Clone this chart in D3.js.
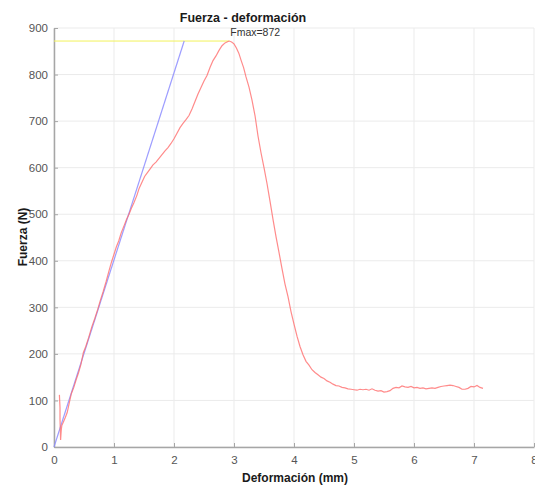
<!DOCTYPE html>
<html lang="es">
<head>
  <meta charset="UTF-8">
  <title>Fuerza - deformación</title>
  <script src="https://d3js.org/d3.v7.min.js"></script>
  <style>
    body { margin: 0; background: #fff; }
    text { font-family: "Liberation Sans", Arial, sans-serif; }
  </style>
</head>
<body>
<div id="chart"></div>
<script>
// curva medida: [deformación (mm), fuerza (N)]
var curva = [
  [0.09,112],[0.10,85],[0.10,60],[0.11,15],[0.12,35],[0.13,46],[0.16,55],[0.19,64],
  [0.22,74],[0.26,98],[0.29,115],[0.33,128],[0.37,145],[0.41,160],[0.45,178],[0.49,203],
  [0.53,216],[0.58,236],[0.63,258],[0.68,276],[0.73,296],[0.77,314],[0.82,334],[0.87,356],
  [0.92,380],[0.96,398],[1.00,414],[1.04,430],[1.08,443],[1.12,460],[1.17,476],[1.21,489],
  [1.25,500],[1.29,513],[1.33,524],[1.38,540],[1.42,556],[1.47,570],[1.51,581],[1.56,590],
  [1.60,597],[1.65,606],[1.70,612],[1.75,620],[1.80,628],[1.85,636],[1.90,643],[1.95,652],
  [2.00,662],[2.05,674],[2.10,686],[2.15,695],[2.20,703],[2.25,712],[2.30,726],[2.35,742],
  [2.40,758],[2.45,772],[2.50,786],[2.55,798],[2.60,815],[2.65,830],[2.70,840],[2.75,852],
  [2.80,862],[2.85,868],[2.90,871],[2.92,872],[2.96,870],[3.00,866],[3.04,857],[3.08,846],
  [3.12,830],[3.16,815],[3.20,795],[3.25,773],[3.30,745],[3.35,712],[3.40,668],[3.45,632],
  [3.50,600],[3.55,566],[3.60,528],[3.65,489],[3.70,452],[3.75,418],[3.80,383],[3.85,350],
  [3.90,323],[3.95,291],[4.00,264],[4.05,238],[4.10,216],[4.15,198],[4.20,184],[4.25,176],
  [4.30,166],[4.35,160],[4.40,155],[4.45,150],[4.50,147],[4.55,142],[4.60,139],[4.65,135],
  [4.70,132],[4.75,131],[4.80,128],[4.85,127],[4.90,125],[4.95,124],[5.00,123],[5.05,122],
  [5.10,124],[5.15,123],[5.20,124],[5.25,122],[5.30,125],[5.35,122],[5.40,120],[5.45,121],
  [5.50,118],[5.55,119],[5.60,121],[5.65,126],[5.70,128],[5.75,127],[5.80,131],[5.85,129],
  [5.90,128],[5.95,130],[6.00,127],[6.05,128],[6.10,126],[6.15,127],[6.20,125],[6.25,126],
  [6.30,127],[6.35,126],[6.40,128],[6.45,130],[6.50,131],[6.55,132],[6.60,133],[6.65,132],
  [6.70,130],[6.75,128],[6.80,124],[6.85,124],[6.90,126],[6.95,130],[7.00,129],[7.05,132],
  [7.10,128],[7.15,126]
];
// recta de ajuste elástico
var ajuste = [[0,0],[2.17,872]];
var fmax = 872;
var xFmax = 2.92;
var xTicks = [0,1,2,3,4,5,6,7,8];
var yTicks = [0,100,200,300,400,500,600,700,800,900];

var W = 535, H = 486;
var m = { left: 54, right: 534, top: 28, bottom: 447 };

var svg = d3.select("#chart").append("svg")
  .attr("width", W).attr("height", H);

var x = d3.scaleLinear().domain([0, 8]).range([m.left, m.right]);
var y = d3.scaleLinear().domain([0, 900]).range([m.bottom, m.top]);

// grid
svg.append("g").selectAll("line").data(xTicks).join("line")
  .attr("x1", d => x(d)).attr("x2", d => x(d))
  .attr("y1", m.top).attr("y2", m.bottom)
  .attr("stroke", "#ebebeb").attr("stroke-width", 1);
svg.append("g").selectAll("line").data(yTicks).join("line")
  .attr("x1", m.left).attr("x2", m.right)
  .attr("y1", d => y(d)).attr("y2", d => y(d))
  .attr("stroke", "#ebebeb").attr("stroke-width", 1);

// ejes
var xAxis = svg.append("g")
  .attr("transform", "translate(0," + m.bottom + ")")
  .call(d3.axisBottom(x).tickValues(xTicks).tickSizeInner(-4).tickSizeOuter(0).tickPadding(9));
var yAxis = svg.append("g")
  .attr("transform", "translate(" + m.left + ",0)")
  .call(d3.axisLeft(y).tickValues(yTicks).tickSizeInner(-4).tickSizeOuter(0).tickPadding(6));

[xAxis, yAxis].forEach(function (g) {
  g.select(".domain").attr("stroke", "#a6a6a6").attr("stroke-width", 1.5);
  g.selectAll(".tick line").attr("stroke", "#a6a6a6");
  g.selectAll(".tick text").attr("fill", "#555")
    .style("font-size", "11.5px").style("font-family", "Liberation Sans, Arial, sans-serif");
});

var line = d3.line().x(d => x(d[0])).y(d => y(d[1]));

// Fmax
svg.append("line")
  .attr("x1", x(0)).attr("x2", x(xFmax))
  .attr("y1", y(fmax)).attr("y2", y(fmax))
  .attr("stroke", "#f2f25a").attr("stroke-width", 1);

svg.append("path").datum(ajuste)
  .attr("d", line).attr("fill", "none")
  .attr("stroke", "#8c8cff").attr("stroke-width", 1.2).attr("stroke-opacity", 0.85);

svg.append("path").datum(curva)
  .attr("d", line).attr("fill", "none")
  .attr("stroke", "#ff6e6e").attr("stroke-width", 1.2).attr("stroke-opacity", 0.8);

// textos
svg.append("text")
  .attr("x", 243).attr("y", 22)
  .attr("text-anchor", "middle")
  .style("font-size", "12.5px").style("font-weight", "bold").attr("fill", "#1a1a1a")
  .text("Fuerza - deformación");

svg.append("text")
  .attr("x", x(xFmax) + 26).attr("y", 36)
  .attr("text-anchor", "middle")
  .style("font-size", "10.5px").attr("fill", "#333")
  .text("Fmax=" + fmax);

svg.append("text")
  .attr("x", 295).attr("y", 482)
  .attr("text-anchor", "middle")
  .style("font-size", "12px").style("font-weight", "bold").attr("fill", "#1a1a1a")
  .text("Deformación (mm)");

svg.append("text")
  .attr("transform", "translate(27,237) rotate(-90)")
  .attr("text-anchor", "middle")
  .style("font-size", "12px").style("font-weight", "bold").attr("fill", "#1a1a1a")
  .text("Fuerza (N)");
</script>
</body>
</html>
